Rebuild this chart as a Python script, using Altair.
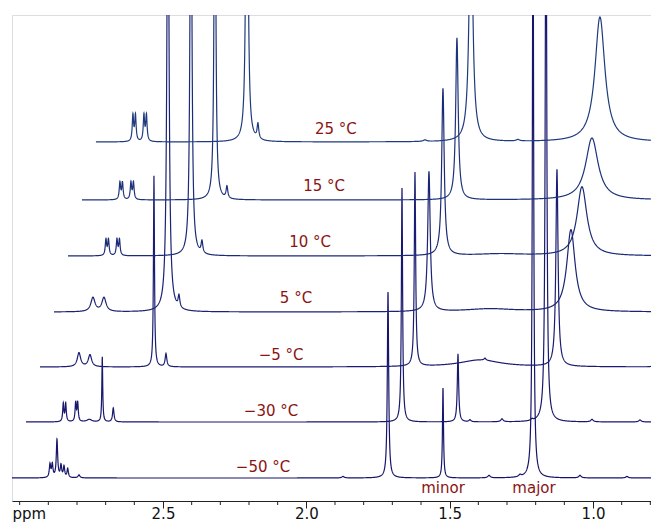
import numpy as np
import pandas as pd
import altair as alt

alt.data_transformers.disable_max_rows()

# ---------------- values ----------------
temps = ["−50 °C", "−30 °C", "−5 °C", "5 °C", "10 °C", "15 °C", "25 °C"]
baseline = [23, 79, 134, 189, 245, 301, 359]      # vertical stacking offset of each trace
stack_shift = 0.0488                               # horizontal stacking offset (ppm) per trace
trace_colors = ["#16156a", "#18186d", "#1a1d71", "#1b2373", "#1c2b77", "#1d337a", "#1f3b7e"]

ppm_left, ppm_right = 3.0267, 0.7977
major_ticks = [2.5, 2.0, 1.5, 1.0]
minor_ticks = [3.0, 2.9, 2.8, 2.7, 2.6, 2.4, 2.3, 2.2, 2.1, 1.9, 1.8,
               1.7, 1.6, 1.4, 1.3, 1.2, 1.1, 0.9, 0.8]

# peak centres (ppm), heights, half-widths (ppm) for every spectrum
m50_pos = [2.8942, 2.8862, 2.8698, 2.8558, 2.8453, 2.8324, 2.7930, 1.8721, 1.7151, 1.5233, 1.3628, 1.2547, 1.2093, 1.0454, 0.8814]
m50_h = [13, 13, 38, 12, 11, 9, 3, 1.5, 186, 90, 2.5, 2, 600, 2.5, 1.5]
m50_w = [0.0028, 0.0028, 0.0028, 0.0028, 0.0028, 0.0028, 0.004, 0.005, 0.0028, 0.0021, 0.005, 0.005, 0.0026, 0.005, 0.005]

m30_pos = [2.8966, 2.8882, 2.8534, 2.8464, 2.8059, 2.7606, 2.7222, 1.7151, 1.5198, 1.4779, 1.3663, 1.2616, 1.2128, 1.0523, 0.8849]
m30_h = [18, 18, 19, 19, 2.5, 65, 14, 234, 68, 2, 3, 1.5, 600, 2.5, 2]
m30_w = [0.0024, 0.0024, 0.0024, 0.0024, 0.01, 0.0018, 0.003, 0.0025, 0.0028, 0.004, 0.005, 0.004, 0.003, 0.005, 0.005]

m5_pos = [2.8907, 2.8523, 2.6291, 2.5872, 1.7186, 1.4919, 1.4744, 1.2233, 0.8884]
m5_h = [14, 12, 191, 13, 194, 7, 2, 197, 2]
m5_w = [0.007, 0.007, 0.0021, 0.0035, 0.0028, 0.087, 0.004, 0.0045, 0.004]

p5_pos = [2.8907, 2.8523, 2.6291, 2.5907, 1.7186, 1.5058, 1.2233]
p5_h = [14, 14, 500, 12, 140, 3, 82]
p5_w = [0.0087, 0.0087, 0.0042, 0.0035, 0.0052, 0.105, 0.0174]

p10_pos = [2.8942, 2.8855, 2.8558, 2.8471, 2.5977, 2.5593, 1.7186, 1.5198, 1.2337]
p10_h = [16, 16, 16, 16, 500, 12, 167, 2, 69]
p10_w = [0.0028, 0.0028, 0.0028, 0.0028, 0.0035, 0.0035, 0.0052, 0.105, 0.0209]

p15_pos = [2.8942, 2.8855, 2.8558, 2.8471, 2.5628, 2.5209, 1.7186, 1.2477]
p15_h = [17, 17, 17, 17, 450, 12, 162, 62]
p15_w = [0.0028, 0.0028, 0.0028, 0.0028, 0.0031, 0.0035, 0.0052, 0.0262]

p25_pos = [2.8977, 2.8889, 2.8593, 2.8506, 2.5000, 2.4616, 1.8791, 1.7186, 1.5547, 1.2686]
p25_h = [26, 26, 26, 26, 520, 15, 1.5, 260, 1.5, 125]
p25_w = [0.0028, 0.0028, 0.0028, 0.0028, 0.0035, 0.0035, 0.007, 0.007, 0.007, 0.0209]

label_ppm = [2.151, 2.123, 2.088, 2.036, 1.987, 1.938, 1.897]
label_y = [29, 85, 141, 198, 254, 310, 367]

site_names = ["minor", "major"]
site_ppm = [1.5233, 1.2058]
site_y = [8, 8]

# ---------------- build the traces ----------------
spectra = [(m50_pos, m50_h, m50_w), (m30_pos, m30_h, m30_w), (m5_pos, m5_h, m5_w),
           (p5_pos, p5_h, p5_w), (p10_pos, p10_h, p10_w), (p15_pos, p15_h, p15_w),
           (p25_pos, p25_h, p25_w)]

frames = []
for k, (pos, hts, wds) in enumerate(spectra):
    start = ppm_left - k * stack_shift
    grid = np.arange(ppm_right, start, 0.0007)
    centers = np.array(pos) - k * stack_shift
    centers = centers[(centers > ppm_right) & (centers < start)]
    grid = np.unique(np.concatenate([grid, centers, [start]]))
    true_ppm = grid + k * stack_shift
    inten = np.full_like(grid, float(baseline[k]))
    for p, h, w in zip(pos, hts, wds):
        inten += h / (1.0 + ((true_ppm - p) / w) ** 2)
    frames.append(pd.DataFrame({"ppm": np.round(grid, 5),
                                "inten": np.round(inten, 2),
                                "temp": temps[k]}))
df = pd.concat(frames, ignore_index=True)

labels_df = pd.DataFrame({"ppm": label_ppm, "inten": label_y, "text": temps})
sites_df = pd.DataFrame({"ppm": site_ppm, "inten": site_y, "text": site_names})
minor_df = pd.DataFrame({"ppm": minor_ticks, "inten": [-4] * len(minor_ticks),
                         "inten2": [0] * len(minor_ticks)})

FONT = "DejaVu Sans"
RED = "#8a1414"
AXIS_COLOR = "#222222"

x_scale = alt.Scale(domain=[ppm_left, ppm_right], nice=False, zero=False)
y_scale = alt.Scale(domain=[0, 486], nice=False, zero=False)

x_axis = alt.Axis(
    values=major_ticks, format=".1f",
    labelOverlap=False,
    labelFont=FONT, labelFontSize=15, labelColor="#111111",
    labelBaseline="alphabetic", labelPadding=10,
    tickSize=7, tickColor=AXIS_COLOR, domainColor=AXIS_COLOR, tickWidth=1, domainWidth=1,
    grid=False,
    title="ppm", titleFont=FONT, titleFontSize=15, titleFontWeight="normal",
    titleColor="#111111", titleAlign="left", titleBaseline="alphabetic",
    titleX=0, titleY=17, titleAnchor="start",
)

lines = alt.Chart(df).mark_line(strokeWidth=1.2, clip=True).encode(
    x=alt.X("ppm:Q", scale=x_scale, axis=x_axis),
    y=alt.Y("inten:Q", scale=y_scale, axis=None),
    color=alt.Color("temp:N", scale=alt.Scale(domain=temps, range=trace_colors), legend=None),
)

minor_rules = alt.Chart(minor_df).mark_rule(color=AXIS_COLOR, strokeWidth=1).encode(
    x=alt.X("ppm:Q", scale=x_scale),
    y=alt.Y("inten:Q", scale=y_scale),
    y2=alt.Y2("inten2:Q"),
)

temp_text = alt.Chart(labels_df).mark_text(
    font=FONT, fontSize=15, color=RED, align="center", baseline="alphabetic"
).encode(
    x=alt.X("ppm:Q", scale=x_scale),
    y=alt.Y("inten:Q", scale=y_scale),
    text="text:N",
)

site_text = alt.Chart(sites_df).mark_text(
    font=FONT, fontSize=15, color=RED, align="center", baseline="alphabetic"
).encode(
    x=alt.X("ppm:Q", scale=x_scale),
    y=alt.Y("inten:Q", scale=y_scale),
    text="text:N",
)

chart = alt.layer(lines, minor_rules, temp_text, site_text).properties(
    width=639, height=486,
    autosize=alt.AutoSizeParams(type="none"),
    padding={"left": 4, "top": 7, "right": 0, "bottom": 21},
).configure_view(stroke=None).configure(background="white")

chart.save("out.html", embed_options={"renderer": "svg", "actions": False})
